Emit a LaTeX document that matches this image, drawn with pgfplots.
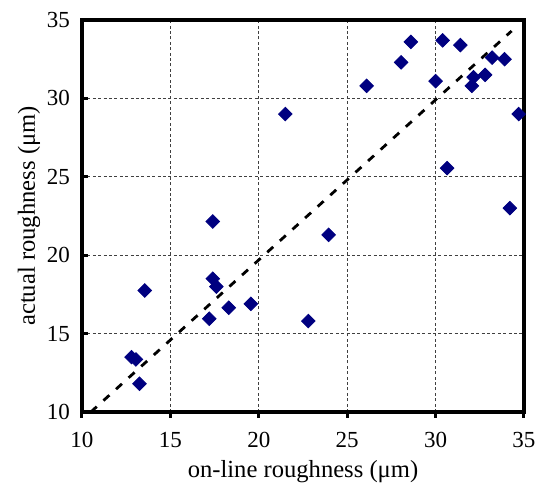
\documentclass[border=0pt]{standalone}
\usepackage{fontspec}
\setmainfont{Liberation Serif}
\usepackage{pgfplots}
\pgfplotsset{compat=1.18}
\definecolor{navyblue}{RGB}{0,0,128}
\pgfplotstableread{
x y
21.5 29.0
28.6 33.6
30.4 33.7
31.4 33.4
28.05 32.3
26.1 30.8
30.0 31.1
33.2 32.6
33.9 32.5
32.8 31.5
32.15 31.35
32.05 30.8
34.7 29.0
30.65 25.55
34.2 23.0
17.4 22.15
13.55 17.75
17.4 18.5
17.6 18.0
18.3 16.65
19.55 16.9
17.2 15.95
12.8 13.5
13.05 13.35
13.25 11.8
23.95 21.3
22.8 15.8
}\datatable
\begin{document}
\fontsize{11.5}{13}\selectfont
\begin{tikzpicture}
\begin{axis}[
  width=221pt, height=196pt, scale only axis,
  xmin=10, xmax=35, ymin=10, ymax=35,
  xtick={10,15,20,25,30,35}, ytick={10,15,20,25,30,35},
  xticklabels={10,15,20,25,30,35},
  yticklabels={10,15,20,25,30,35},
  tick pos=left,
  xtick align=outside, ytick align=inside,
  major tick length=3pt,
  tick style={line width=1.5pt, black},
  axis line style={line width=2pt},
  grid=major,
  major grid style={dash pattern=on 1.5pt off 1.2pt, line width=0.5pt, black!75},
  tick label style={font=\rmfamily\fontsize{11.5}{13}\selectfont},
  xticklabel style={yshift=-3pt},
  yticklabel style={xshift=-2pt},
  xlabel={on-line roughness (μm)},
  ylabel={actual roughness (μm)},
  label style={font=\rmfamily\fontsize{12.3}{14}\selectfont},
  xlabel style={yshift=1.5pt},
  ylabel style={yshift=-4.5pt},
  clip=false,
]
\addplot[black, line width=1.4pt, dash pattern=on 4pt off 4.5pt] coordinates {(10.5,10) (34.3,34.3)};
\addplot[only marks, mark=square*, mark size=2.4pt, mark options={rotate=45, fill=navyblue, draw=navyblue}] table {\datatable};
\end{axis}
\pgfresetboundingbox
\path ([shift={(-41pt,-37pt)}]current axis.south west) rectangle ([shift={(5.5pt,10pt)}]current axis.north east);
\end{tikzpicture}
\end{document}
